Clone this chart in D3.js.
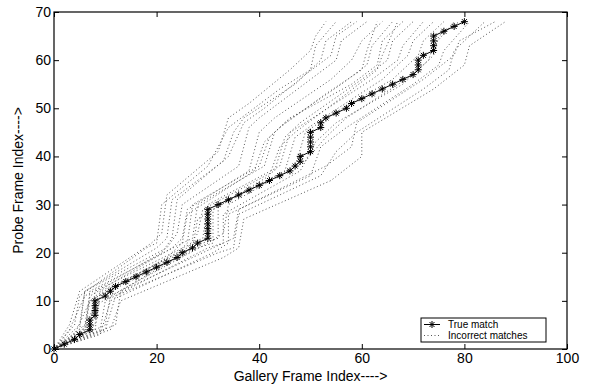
<!DOCTYPE html>
<html>
<head>
<meta charset="utf-8">
<script src="https://cdn.jsdelivr.net/npm/d3@7"></script>
<style>
  body { margin: 0; background: #fff; }
  svg { font-family: "Liberation Sans", Arial, sans-serif; }
</style>
</head>
<body>
<svg id="chart" width="600" height="385"></svg>
<script>
// gallery frame matched to each probe frame 0..68
const trueGallery = [
  0, 2, 4, 5, 7, 7, 7, 8, 8, 8,
  8, 10, 11, 12, 14, 16, 18, 20, 22, 24,
  25, 27, 28, 30, 30, 30, 30, 30, 30, 30,
  32, 34, 36, 38, 40, 42, 44, 46, 47, 48,
  48, 50, 50, 50, 50, 50, 52, 52, 53, 55,
  57, 58, 60, 62, 64, 66, 68, 70, 71, 71,
  71, 72, 74, 74, 74, 74, 76, 78, 80
];

// incorrect matches, as polyline vertices [gallery, probe]
const wrongMatches = [
  [[0,0],[4,5],[5,11],[18,21],[20,22],[21,30],[30,38],[33,44],[34,46],[44,54],[50,58],[51,63],[55,68]],
  [[0,0],[3,5],[5,12],[19,22],[21,24],[22,32],[32,41],[34,48],[38,51],[46,58],[50,62],[51,65],[53,68]],
  [[0,0],[5,5],[6,12],[20,21],[22,23],[23,31],[33,39],[35,45],[37,48],[47,55],[52,60],[53,64],[58,68]],
  [[0,0],[3,4],[6,11],[21,20],[23,23],[24,31],[34,40],[37,47],[41,50],[49,57],[54,61],[55,65],[59,68]],
  [[0,0],[5,4],[6,12],[22,21],[24,24],[25,30],[36,38],[38,46],[40,48],[50,56],[55,60],[56,64],[61,68]],
  [[0,0],[4,3],[7,10],[22,19],[25,22],[26,28],[39,37],[41,43],[44,46],[53,53],[60,58],[61,62],[63,68]],
  [[0,0],[6,5],[7,11],[23,21],[25,23],[26,29],[38,37],[40,45],[43,48],[54,56],[58,60],[60,64],[64,68]],
  [[0,0],[6,4],[7,10],[24,20],[26,22],[27,30],[40,38],[42,44],[45,47],[56,55],[61,59],[62,63],[66,68]],
  [[0,0],[5,3],[8,9],[24,19],[27,21],[28,27],[42,36],[44,42],[47,45],[57,53],[63,58],[64,61],[67,68]],
  [[0,0],[6,3],[7,12],[25,22],[27,23],[28,30],[41,38],[43,45],[46,48],[58,55],[63,59],[64,64],[68,68]],
  [[0,0],[7,5],[8,11],[26,21],[28,24],[29,29],[43,37],[45,44],[48,47],[60,56],[65,60],[66,64],[70,68]],
  [[0,0],[7,4],[8,12],[27,22],[29,23],[30,30],[44,38],[46,45],[49,47],[62,56],[67,60],[68,63],[72,68]],
  [[0,0],[8,4],[9,11],[28,21],[31,22],[31,29],[45,37],[47,44],[51,47],[64,56],[69,61],[70,64],[74,68]],
  [[0,0],[8,5],[9,12],[29,22],[32,23],[32,30],[47,38],[49,45],[53,48],[66,56],[71,61],[72,64],[76,68]],
  [[0,0],[9,4],[10,10],[30,21],[33,22],[33,28],[48,37],[51,43],[55,47],[68,55],[73,60],[74,63],[78,68]],
  [[0,0],[10,5],[11,11],[30,22],[33,24],[34,30],[49,39],[53,44],[57,48],[70,57],[74,61],[75,65],[79,68]],
  [[0,0],[9,3],[11,10],[31,20],[34,22],[34,28],[50,36],[52,42],[57,46],[70,55],[75,59],[76,62],[81,68]],
  [[0,0],[10,4],[12,11],[32,20],[35,21],[36,28],[52,36],[55,41],[59,45],[72,54],[77,58],[78,62],[84,68]],
  [[0,0],[12,5],[13,12],[33,22],[35,23],[36,29],[53,38],[58,42],[59,47],[72,56],[78,61],[79,64],[86,68]],
  [[0,0],[11,4],[13,10],[33,19],[36,21],[37,27],[54,35],[60,40],[60,45],[74,54],[80,59],[81,63],[88,68]]
];

const xTicks = [0, 20, 40, 60, 80, 100];
const yTicks = [0, 10, 20, 30, 40, 50, 60, 70];
const legendLabels = ["True match", "Incorrect matches"];

const box = { left: 54, right: 567, top: 12, bottom: 349 };

const svg = d3.select("#chart");

const x = d3.scaleLinear().domain([0, 100]).range([box.left, box.right]);
const y = d3.scaleLinear().domain([0, 70]).range([box.bottom, box.top]);

// dotted incorrect matches
const line = d3.line().x(d => x(d[0])).y(d => y(d[1]));
svg.append("g")
  .selectAll("path")
  .data(wrongMatches)
  .join("path")
  .attr("d", line)
  .attr("fill", "none")
  .attr("stroke", "#555")
  .attr("stroke-width", 1)
  .attr("stroke-dasharray", "1,2.5");

// true match
const truePts = trueGallery.map((g, i) => [g, i]);
svg.append("path")
  .attr("d", line(truePts))
  .attr("fill", "none")
  .attr("stroke", "#000")
  .attr("stroke-width", 1);

const star = "M-3.5,0H3.5M0,-3.5V3.5M-2.5,-2.5L2.5,2.5M-2.5,2.5L2.5,-2.5";
svg.append("g")
  .selectAll("path")
  .data(truePts)
  .join("path")
  .attr("transform", d => "translate(" + x(d[0]) + "," + y(d[1]) + ")")
  .attr("d", star)
  .attr("fill", "none")
  .attr("stroke", "#000")
  .attr("stroke-width", 1);

// axes, matlab style ticks pointing inward
const styleAxis = g => {
  g.select(".domain").remove();
  g.selectAll(".tick line").attr("stroke", "#000");
  g.selectAll(".tick text").attr("fill", "#000").attr("font-size", 14);
};

svg.append("g")
  .attr("transform", "translate(0," + box.bottom + ")")
  .call(d3.axisBottom(x).tickValues(xTicks).tickSizeInner(-5).tickSizeOuter(0).tickPadding(4))
  .call(styleAxis);

svg.append("g")
  .attr("transform", "translate(0," + box.top + ")")
  .call(d3.axisTop(x).tickValues(xTicks).tickSizeInner(-5).tickSizeOuter(0).tickFormat(""))
  .call(styleAxis);

svg.append("g")
  .attr("transform", "translate(" + box.left + ",0)")
  .call(d3.axisLeft(y).tickValues(yTicks).tickSizeInner(-5).tickSizeOuter(0).tickPadding(3))
  .call(styleAxis);

svg.append("g")
  .attr("transform", "translate(" + box.right + ",0)")
  .call(d3.axisRight(y).tickValues(yTicks).tickSizeInner(-5).tickSizeOuter(0).tickFormat(""))
  .call(styleAxis);

svg.append("rect")
  .attr("x", box.left).attr("y", box.top)
  .attr("width", box.right - box.left).attr("height", box.bottom - box.top)
  .attr("fill", "none").attr("stroke", "#000").attr("stroke-width", 1.2);

// axis titles
svg.append("text")
  .attr("x", (box.left + box.right) / 2).attr("y", 381)
  .attr("text-anchor", "middle").attr("font-size", 14)
  .text("Gallery Frame Index---->");

svg.append("text")
  .attr("transform", "translate(23," + (box.top + box.bottom) / 2 + ") rotate(-90)")
  .attr("text-anchor", "middle").attr("font-size", 14)
  .text("Probe Frame Index---->");

// legend
const lg = svg.append("g").attr("transform", "translate(421,318)");
lg.append("rect")
  .attr("width", 125).attr("height", 24)
  .attr("fill", "#fff").attr("stroke", "#000").attr("stroke-width", 1);

const rows = lg.selectAll("g.row")
  .data(legendLabels)
  .join("g")
  .attr("class", "row")
  .attr("transform", (d, i) => "translate(0," + (6.5 + i * 11) + ")");

rows.append("line")
  .attr("x1", 3).attr("x2", 19)
  .attr("stroke", d => d === legendLabels[0] ? "#000" : "#555")
  .attr("stroke-dasharray", d => d === legendLabels[0] ? null : "1,2.5");

rows.filter(d => d === legendLabels[0])
  .append("path")
  .attr("transform", "translate(11,0)")
  .attr("d", star).attr("fill", "none").attr("stroke", "#000");

rows.append("text")
  .attr("x", 27).attr("y", 3.5)
  .attr("font-size", 10)
  .text(d => d);
</script>
</body>
</html>
